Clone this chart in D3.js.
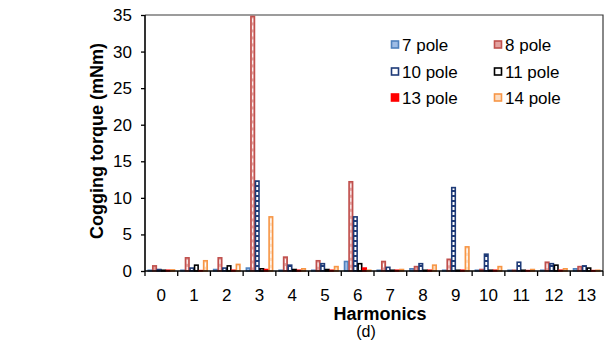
<!DOCTYPE html>
<html><head><meta charset="utf-8">
<script src="https://cdn.jsdelivr.net/npm/d3@7"></script>
<style>body{margin:0;background:#fff}svg{display:block}text{font-family:"Liberation Sans",Arial,sans-serif}</style>
</head><body><svg id="c" width="607" height="345"></svg>
<script>
const harmonics = ["0","1","2","3","4","5","6","7","8","9","10","11","12","13"];
const seriesNames = ["7 pole","8 pole","10 pole","11 pole","13 pole","14 pole"];
const pole7  = [0.1,0.1,0.2,0.4,0.1,0.1,1.3,0.1,0.3,0.1,0.1,0.1,0.1,0.3];
const pole8  = [0.7,1.8,1.8,34.8,1.9,1.4,12.2,1.3,0.6,1.6,0.2,0.1,1.2,0.6];
const pole10 = [0.2,0.4,0.4,12.3,0.8,1.0,7.4,0.5,1.0,11.4,2.3,1.2,1.0,0.7];
const pole11 = [0.1,0.8,0.7,0.3,0.2,0.2,1.0,0.1,0.1,0.1,0.1,0.1,0.8,0.4];
const pole13 = [0.1,0.05,0.1,0.2,0.1,0.1,0.4,0.1,0.1,0.1,0.1,0.05,0.1,0.05];
const pole14 = [0.15,1.4,0.9,7.4,0.3,0.6,0.1,0.2,0.8,3.3,0.6,0.2,0.3,0.1];
const yTicks = [0,5,10,15,20,25,30,35];
const seriesValues = [pole7,pole8,pole10,pole11,pole13,pole14];

const styles = {
  "7 pole":  {fill:"#9dbce6", stroke:"#4f81bd"},
  "8 pole":  {fill:"#e3a19f", stroke:"#c0504d", dash:"#ffffff"},
  "10 pole": {fill:"url(#rungs)", stroke:"#1f3b78"},
  "11 pole": {fill:"#ffffff", stroke:"#000000"},
  "13 pole": {fill:"#ff0000", stroke:"#ff0000"},
  "14 pole": {fill:"#fbdcc2", stroke:"#f79646", dash:"#ffffff"}
};

const svg = d3.select("#c");
const L=145, R=603, T=15, B=271;
const defs = svg.append("defs");
const pat = defs.append("pattern").attr("id","rungs").attr("patternUnits","userSpaceOnUse")
  .attr("width",10).attr("height",5);
pat.append("rect").attr("width",10).attr("height",5).attr("fill","#fff");
pat.append("rect").attr("y",0).attr("width",10).attr("height",2).attr("fill","#1f3b78");

const x0 = d3.scaleBand().domain(harmonics).range([L,R]).paddingInner(0).paddingOuter(0);
const x1 = d3.scaleBand().domain(seriesNames).range([0,x0.bandwidth()]).paddingInner(0).paddingOuter(0.6);
const y = d3.scaleLinear().domain([0,35]).range([B,T]);

svg.append("path").attr("d",`M${L},${T}H${R}V${B}`).attr("fill","none").attr("stroke","#3a3a3a").attr("stroke-width",1.2);

const data = [];
seriesNames.forEach((s,si)=>harmonics.forEach((h,hi)=>data.push({s,h,v:seriesValues[si][hi]})));

const g = svg.append("g");
const sw = 1.6;
g.selectAll("rect.bar").data(data).join("rect").attr("class","bar")
  .attr("x",d=>x0(d.h)+x1(d.s)+sw/2-0.3)
  .attr("width",x1.bandwidth()-sw+0.6)
  .attr("y",d=>y(d.v))
  .attr("height",d=>Math.max(0,B-y(d.v)))
  .attr("fill",d=>styles[d.s].fill)
  .attr("stroke",d=>styles[d.s].stroke)
  .attr("stroke-width",sw);
g.selectAll("line.dash").data(data.filter(d=>styles[d.s].dash && B-y(d.v)>6)).join("line").attr("class","dash")
  .attr("x1",d=>x0(d.h)+x1(d.s)+x1.bandwidth()/2).attr("x2",d=>x0(d.h)+x1(d.s)+x1.bandwidth()/2)
  .attr("y1",d=>y(d.v)+2).attr("y2",B-1)
  .attr("stroke",d=>styles[d.s].dash).attr("stroke-width",1).attr("stroke-dasharray","4,3");

const xAxis = svg.append("g").attr("transform",`translate(0,${B})`)
  .call(d3.axisBottom(x0).tickSize(0).tickPadding(18));
xAxis.select(".domain").remove();
xAxis.selectAll("text").attr("font-size",17).attr("fill","#000").attr("font-family","Liberation Sans, Arial");
const bounds = harmonics.map(h=>x0(h)).concat([R]);
svg.append("g").selectAll("line").data(bounds).join("line")
  .attr("x1",d=>d).attr("x2",d=>d).attr("y1",B).attr("y2",B+5).attr("stroke","#000").attr("stroke-width",1.3);

const yAxis = svg.append("g").attr("transform",`translate(${L},0)`)
  .call(d3.axisLeft(y).tickValues(yTicks).tickSize(4).tickPadding(9));
yAxis.select(".domain").remove();
yAxis.selectAll("line").attr("stroke","#000").attr("stroke-width",1.3);
yAxis.selectAll("text").attr("font-size",17).attr("fill","#000").attr("font-family","Liberation Sans, Arial");
svg.append("line").attr("x1",L).attr("x2",L).attr("y1",T).attr("y2",B).attr("stroke","#000").attr("stroke-width",1.6);
svg.append("line").attr("x1",L).attr("x2",R).attr("y1",B).attr("y2",B).attr("stroke","#000").attr("stroke-width",1.6);

svg.append("text").attr("transform","translate(103,141) rotate(-90)").attr("text-anchor","middle")
  .attr("font-size",18).attr("font-weight","bold").text("Cogging torque (mNm)");
svg.append("text").attr("x",380).attr("y",320).attr("text-anchor","middle")
  .attr("font-size",18).attr("font-weight","bold").text("Harmonics");
svg.append("text").attr("x",366).attr("y",337).attr("text-anchor","middle")
  .attr("font-size",16).attr("font-family","Liberation Serif, Times New Roman, serif").text("(d)");

const legPos = [[391,45],[494,45],[391,72],[494,72],[391,98],[494,98]];
const leg = svg.append("g").selectAll("g").data(seriesNames).join("g")
  .attr("transform",(d,i)=>`translate(${legPos[i][0]},${legPos[i][1]})`);
leg.append("rect").attr("x",0.5).attr("y",-4).attr("width",7).attr("height",7)
  .attr("fill",d=>styles[d].fill==="url(#rungs)"?"#fff":styles[d].fill).attr("stroke",d=>styles[d].stroke).attr("stroke-width",1.6);
leg.append("text").attr("x",11).attr("y",6).attr("font-size",17).attr("fill","#000").text(d=>d);
</script></body></html>
